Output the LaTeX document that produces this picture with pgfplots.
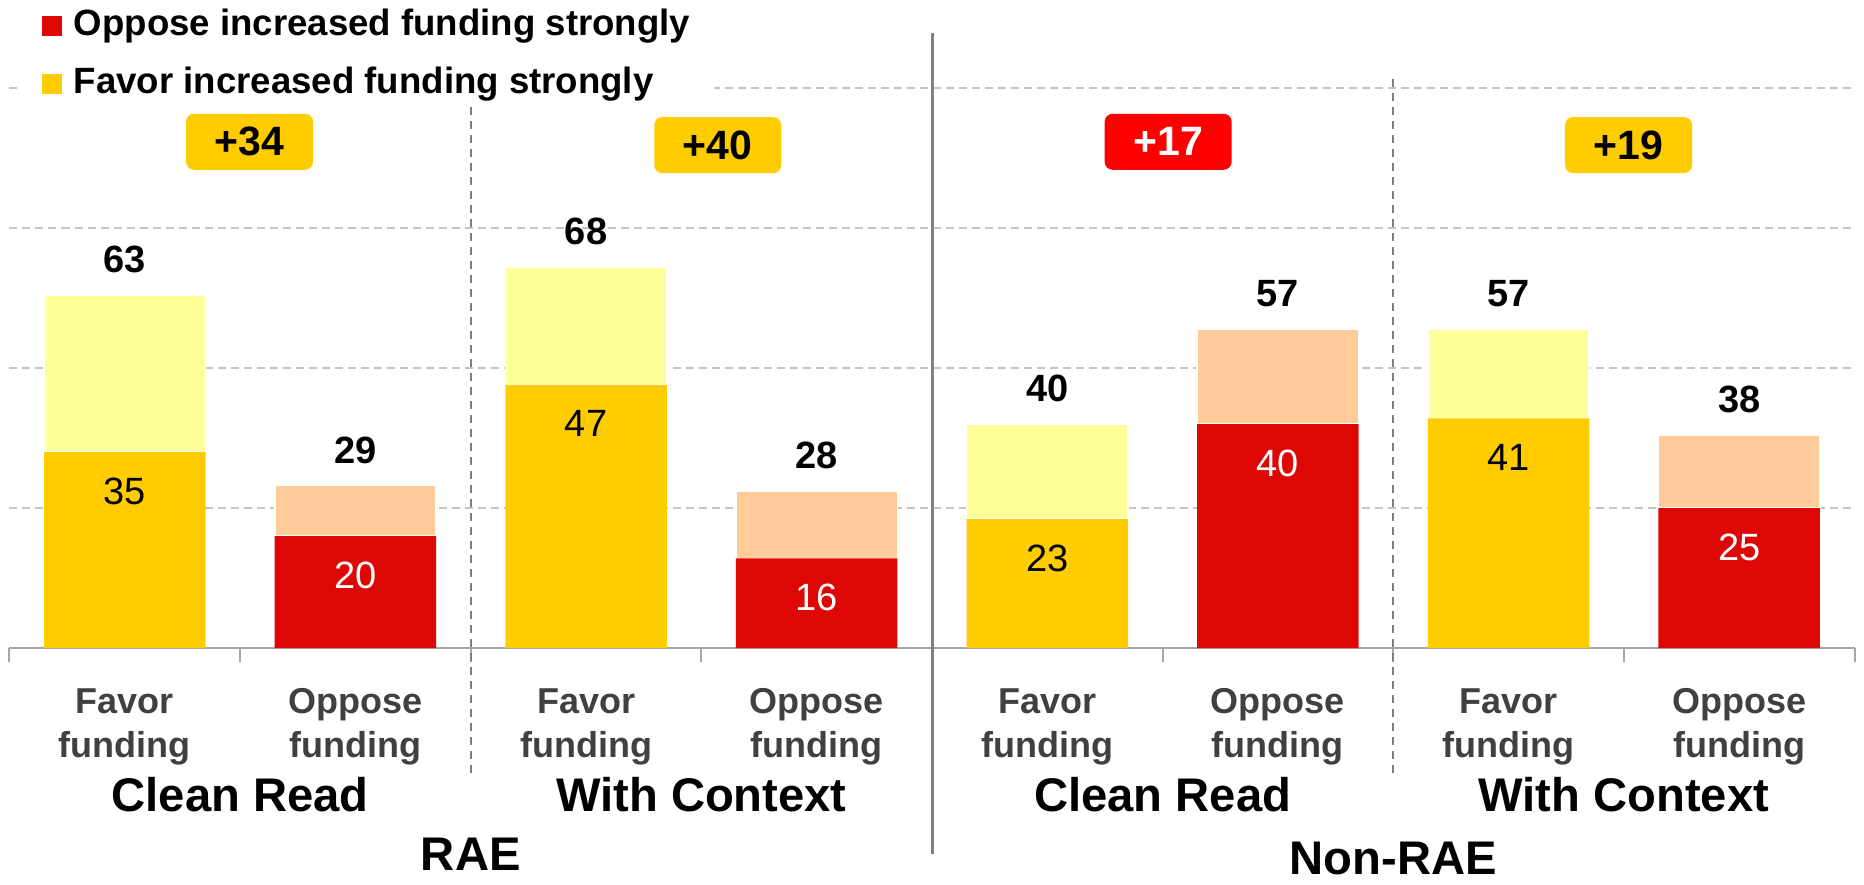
\documentclass[border=0pt]{standalone}
\usepackage{pgfplots}
\pgfplotsset{compat=1.18}
\usepackage{pgfplotstable}
\usepackage{fontspec}
\setmainfont{Liberation Sans}
\definecolor{favS}{HTML}{FFCC00}
\definecolor{favL}{HTML}{FFFF99}
\definecolor{oppS}{HTML}{DD0806}
\definecolor{oppL}{HTML}{FFCC99}
\definecolor{diffRed}{HTML}{FF0000}
\definecolor{axgray}{HTML}{A6A6A6}
\definecolor{gridgray}{HTML}{C4C4C4}
\definecolor{sepgray}{HTML}{808080}
\definecolor{ticktext}{HTML}{404040}

% strong oppose
\pgfplotstableread{
x y
0 0
1 20
2 0
3 16
4 0
5 40
6 0
7 25
}\oppSt
% strong favor
\pgfplotstableread{
x y
0 35
1 0
2 47
3 0
4 23
5 0
6 41
7 0
}\favSt
% rest of oppose
\pgfplotstableread{
x y
0 0
1 9
2 0
3 12
4 0
5 17
6 0
7 13
}\oppLt
% rest of favor
\pgfplotstableread{
x y
0 28
1 0
2 21
3 0
4 17
5 0
6 16
7 0
}\favLt
% labels: strong favor values, strong oppose values, totals
\pgfplotstableread{
x y lab
0 35 35
2 47 47
4 23 23
6 41 41
}\favLab
\pgfplotstableread{
x y lab
1 20 20
3 16 16
5 40 40
7 25 25
}\oppLab
\pgfplotstableread{
x y lab
0 63 63
1 29 29
2 68 68
3 28 28
4 40 40
5 57 57
6 57 57
7 38 38
}\totLab

\pgfplotsset{geom/.style={
  at={(4.75pt,-324pt)}, anchor=south west,
  scale only axis, width=922.5pt, height=322pt,
  xmin=-0.5, xmax=7.5, ymin=0, ymax=115, clip=false}}

\begin{document}
\begin{tikzpicture}
\useasboundingbox (0pt,0pt) rectangle (932pt,-442pt);
\begin{axis}[
  geom,
  ybar stacked, bar width=0.7,
  axis x line*=bottom, axis y line*=left,
  y axis line style={draw=none},
  x axis line style={-, draw=axgray, line width=1.2pt},
  ytick={25,50,75,100}, yticklabels={}, ytick style={draw=none},
  ymajorgrids,
  major grid style={draw=gridgray, line width=0.8pt, dash pattern=on 4pt off 2.5pt},
  xtick={0,1,2,3,4,5,6,7},
  xticklabels={{Favor\\funding},{Oppose\\funding},{Favor\\funding},{Oppose\\funding},{Favor\\funding},{Oppose\\funding},{Favor\\funding},{Oppose\\funding}},
  minor xtick={-0.5,0.5,1.5,2.5,3.5,4.5,5.5,6.5,7.5},
  major tick length=0pt, minor tick length=7pt, tick align=outside,
  xtick style={draw=axgray, line width=1pt},
  x tick label style={align=center, font=\fontsize{18}{22}\selectfont\bfseries, text=ticktext, inner sep=0pt, anchor=north, yshift=-20pt},
  legend style={at={(axis description cs:0,1)}, anchor=north west, xshift=4pt,
    draw=none, fill=white, inner xsep=12pt, inner ysep=2pt, row sep=11.5pt, column sep=6pt,
    font=\fontsize{18.3}{22}\selectfont\bfseries,
    nodes={inner sep=0pt, text height=13.5pt, text depth=4pt}},
  legend cell align=left,
]
\addplot[fill=oppS, draw=none,
  legend image code/.code={\fill[oppS] (0pt,-5pt) rectangle (10pt,5pt);}]
  table[x=x, y=y] {\oppSt};
\addplot[fill=favS, draw=none,
  legend image code/.code={\fill[favS] (0pt,-5pt) rectangle (10pt,5pt);}]
  table[x=x, y=y] {\favSt};
\addplot[fill=oppL, draw=white, line width=0.8pt] table[x=x, y=y] {\oppLt};
\addplot[fill=favL, draw=white, line width=0.8pt] table[x=x, y=y] {\favLt};
\legend{Oppose increased funding strongly, Favor increased funding strongly}

% group separators
\draw[sepgray, line width=1pt, dash pattern=on 4pt off 3pt] (axis cs:1.5,101.6) -- (axis cs:1.5,-22.5);
\draw[sepgray, line width=1pt, dash pattern=on 4pt off 3pt] (axis cs:5.5,101.6) -- (axis cs:5.5,-22.5);
\draw[sepgray, line width=1.5pt] (axis cs:3.5,109.8) -- (axis cs:3.5,-36.8);

% difference boxes
\tikzset{diffbox/.style={rounded corners=4pt, minimum width=63.5pt, minimum height=28pt, inner sep=0pt, font=\fontsize{20.5}{24}\selectfont\bfseries}}
\node[diffbox, fill=favS, text=black] at (axis cs:0.541,90.4) {+34};
\node[diffbox, fill=favS, text=black] at (axis cs:2.571,89.8) {+40};
\node[diffbox, fill=diffRed, text=white] at (axis cs:4.524,90.4) {+17};
\node[diffbox, fill=favS, text=black] at (axis cs:6.52,89.8) {+19};

% group labels
\tikzset{grplab/.style={anchor=base, inner sep=0pt, font=\fontsize{23.6}{28}\selectfont\bfseries}}
\node[grplab] at ([yshift=-81.5pt]axis cs:0.5,0) {Clean Read};
\node[grplab] at ([yshift=-81.5pt]axis cs:2.5,0) {With Context};
\node[grplab] at ([yshift=-81.5pt]axis cs:4.5,0) {Clean Read};
\node[grplab] at ([yshift=-81.5pt]axis cs:6.5,0) {With Context};
\node[grplab] at ([yshift=-111pt]axis cs:1.5,0) {RAE};
\node[grplab] at ([yshift=-113pt]axis cs:5.5,0) {Non-RAE};
\end{axis}

% value labels
\begin{axis}[geom, hide axis]
\addplot[draw=none, nodes near coords, point meta=explicit symbolic,
  every node near coord/.append style={anchor=center, yshift=-19.5pt, font=\fontsize{19}{22}\selectfont, text=black}]
  table[x=x, y=y, meta=lab] {\favLab};
\addplot[draw=none, nodes near coords, point meta=explicit symbolic,
  every node near coord/.append style={anchor=center, yshift=-19.5pt, font=\fontsize{19}{22}\selectfont, text=white}]
  table[x=x, y=y, meta=lab] {\oppLab};
\addplot[draw=none, nodes near coords, point meta=explicit symbolic,
  every node near coord/.append style={anchor=center, yshift=17.8pt, font=\fontsize{19}{22}\selectfont\bfseries, text=black}]
  table[x=x, y=y, meta=lab] {\totLab};
\end{axis}
\end{tikzpicture}
\end{document}
